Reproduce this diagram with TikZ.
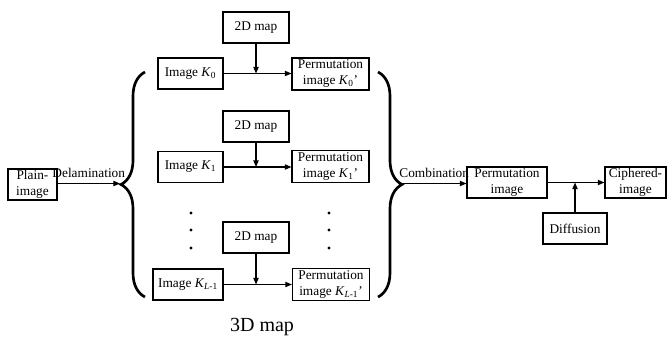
\documentclass[tikz,border=0pt]{standalone}
\usepackage{fontspec}
\setmainfont{Liberation Serif}
\usepackage{tikz}
\usetikzlibrary{arrows.meta,positioning,calc,decorations.pathreplacing}

\newcommand{\kimg}[1]{\textit{K}\textsubscript{#1}}

\begin{document}
\begin{tikzpicture}[
    x=0.75pt, y=-0.75pt,
    blk/.style={rectangle, draw=black, line width=0.8pt, align=center, inner sep=1pt, font=\fontsize{10}{12}\selectfont},
    mapbox/.style={blk, minimum width=49.5pt, minimum height=23.25pt},
    imgbox/.style={blk, minimum width=48.75pt, minimum height=23.25pt},
    permbox/.style={blk, minimum width=57.75pt, minimum height=24pt},
    lbl/.style={font=\fontsize{10}{12}\selectfont, inner sep=0pt},
    arrow/.style={-{Triangle[length=5pt,width=4pt]}, line width=0.8pt},
    bigbrace/.style={decorate, decoration={brace, amplitude=18pt}, line width=2pt}
]
    \useasboundingbox (0,0) rectangle (668,339);

    % input side
    \node[blk, minimum width=36.75pt, minimum height=23.25pt] (plain) at (32.5,184.5) {Plain-\\image};
    \coordinate (ltip) at (120,183.5);
    \draw[bigbrace] (145,297) -- (145,72);
    \draw[arrow] (plain.east |- ltip) -- (ltip);
    \node[lbl, above=4pt of $(plain.east |- ltip)!0.5!(ltip)$] (delam) {Delamination};

    % the L layers
    \node[mapbox] (mapA) at (256,27.5) {2D map};
    \node[imgbox] (imgA) at (190.5,73.5) {Image \kimg{0}};
    \node[permbox] (permA) at (330.5,74) {Permutation\\image \kimg{0}'};

    \node[mapbox] (mapB) at (256,126.5) {2D map};
    \node[imgbox] (imgB) at (190.5,167) {Image \kimg{1}};
    \node[permbox] (permB) at (330.5,166.5) {Permutation\\image \kimg{1}'};

    \node[mapbox] (mapC) at (256,237.5) {2D map};
    \node[imgbox, minimum width=52.5pt] (imgC) at (188,284.5) {Image \kimg{\textit{L}-1}};
    \node[permbox] (permC) at (331,284.5) {Permutation\\image \kimg{\textit{L}-1}'};

    \foreach \r in {A,B,C} {
        \draw[arrow] (img\r.east) -- (img\r.east -| perm\r.west);
        \draw[arrow] (map\r.south) -- (map\r.south |- img\r.east);
    }

    % dots
    \foreach \yy in {213,230,248} {
        \fill (191,\yy) circle (1.2pt);
        \fill (329,\yy) circle (1.2pt);
    }

    \node[font=\fontsize{15}{18}\selectfont, inner sep=0pt] (map3d) at (262,327) {3D map};

    % output side
    \draw[bigbrace] (378,72) -- (378,297);
    \coordinate (rtip) at (402,183.5);
    \node[blk, minimum width=60pt, minimum height=23.25pt] (perm) at (507,182.5) {Permutation\\image};
    \node[blk, minimum width=45.75pt, minimum height=23.25pt] (cipher) at (635.5,182.5) {Ciphered-\\image};
    \node[blk, minimum width=48pt, minimum height=23.25pt] (diff) at (575,228.5) {Diffusion};
    \draw[arrow] (rtip) -- (rtip -| perm.west);
    \node[lbl, above=4pt of $(rtip)!0.5!(rtip -| perm.west)$] (comb) {Combination};
    \draw[arrow] (perm.east) -- (cipher.west);
    \draw[arrow] (diff.north) -- (diff.north |- perm.east);
\end{tikzpicture}
\end{document}
